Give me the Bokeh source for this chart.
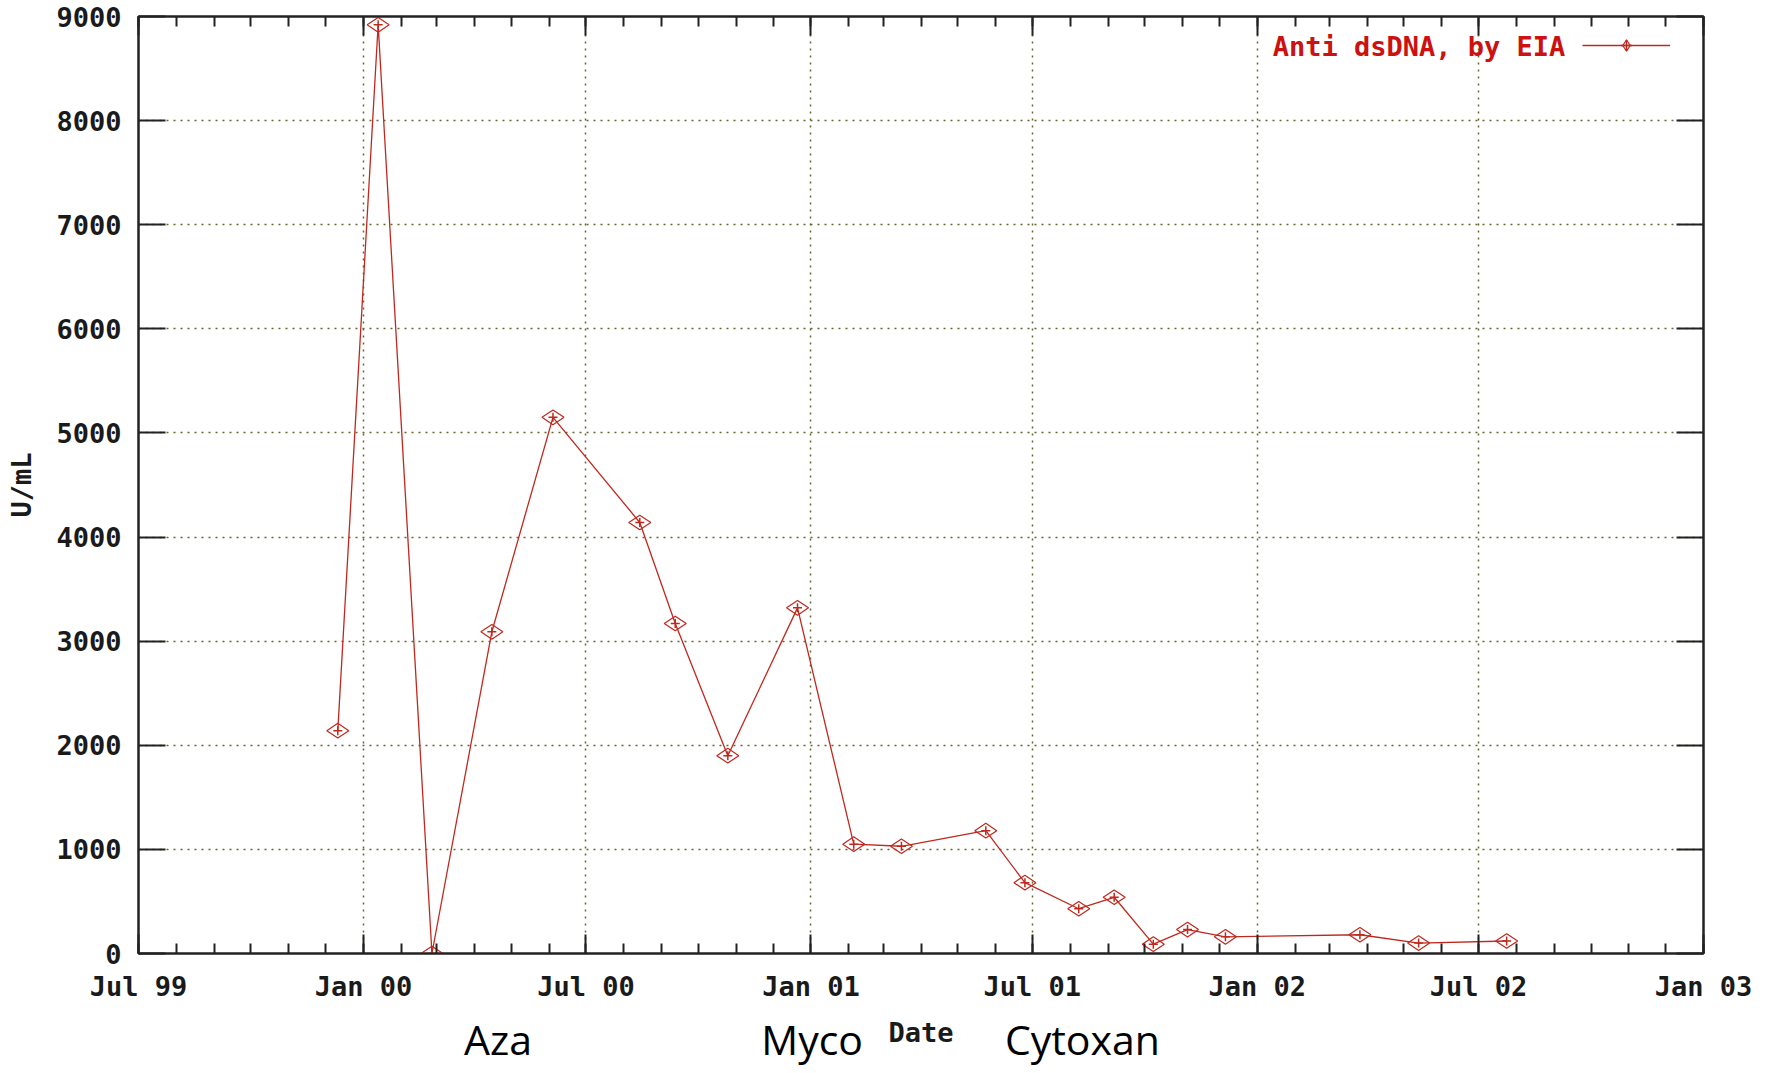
import numpy as np
import pandas as pd
from bokeh.plotting import figure
from bokeh.models import (FixedTicker, DatetimeTickFormatter, DatetimeAxis, LinearAxis,
                          Range1d, Label, Legend, LegendItem)
from bokeh.embed import file_html
from bokeh.resources import INLINE

# ---------------- data ----------------
dates = ["1999-12-11", "2000-01-13", "2000-02-26", "2000-04-15", "2000-06-04",
         "2000-08-14", "2000-09-12", "2000-10-25", "2000-12-21", "2001-02-05",
         "2001-03-16", "2001-05-24", "2001-06-25", "2001-08-08", "2001-09-06",
         "2001-10-08", "2001-11-05", "2001-12-06", "2002-03-26", "2002-05-13",
         "2002-07-24"]
values = [2140, 8920, 0, 3090, 5150, 4140, 3170, 1900, 3320, 1050,
          1030, 1180, 680, 430, 540, 90, 230, 160, 180, 100, 120]
series_name = "Anti dsDNA, by EIA"

x_tick_dates = ["1999-07-01", "2000-01-01", "2000-07-01", "2001-01-01",
                "2001-07-01", "2002-01-01", "2002-07-01", "2003-01-01"]
y_ticks = [0, 1000, 2000, 3000, 4000, 5000, 6000, 7000, 8000, 9000]

drug_names = ["Aza", "Myco", "Cytoxan"]
drug_dates = ["2000-04-20", "2001-01-02", "2001-08-11"]

x_label = "Date"
y_label = "U/mL"

# ---------------- helpers ----------------
def ms(d):
    return int(pd.Timestamp(d).value // 10**6)

xs = [pd.Timestamp(d) for d in dates]
major_ms = [ms(d) for d in x_tick_dates]
minor_ms = [ms(d) for d in pd.date_range(x_tick_dates[0], x_tick_dates[-1], freq="MS")]
drug_ms = [ms(d) for d in drug_dates]

MONO = "DejaVu Sans Mono"
FS = "27px"
RED = "#c0281e"
GRID = "#66662f"
AX = "#222222"

p = figure(width=1772, height=1073, x_axis_type="datetime",
           x_range=Range1d(ms(x_tick_dates[0]), ms(x_tick_dates[-1])),
           y_range=Range1d(y_ticks[0], y_ticks[-1]),
           output_backend="svg", toolbar_location=None,
           min_border_left=138, min_border_right=69, min_border_top=16, min_border_bottom=120)
p.frame_width = 1565
p.frame_height = 937
p.background_fill_color = "white"
p.border_fill_color = "white"
p.outline_line_color = AX
p.outline_line_width = 2

xt = FixedTicker(ticks=major_ms, minor_ticks=minor_ms)
yt = FixedTicker(ticks=y_ticks, minor_ticks=[])
fmt = DatetimeTickFormatter(days="%b %y", months="%b %y", years="%b %y",
                            hours="%b %y", minutes="%b %y", seconds="%b %y")

for ax in p.xaxis:
    ax.ticker = xt
    ax.formatter = fmt
    ax.axis_label = x_label
for ax in p.yaxis:
    ax.ticker = yt
    ax.axis_label = y_label

def style(ax, xdir):
    ax.axis_line_color = AX
    ax.axis_line_width = 2
    ax.major_tick_line_color = AX
    ax.major_tick_line_width = 2
    ax.minor_tick_line_color = AX
    ax.minor_tick_line_width = 2
    ax.major_tick_out = 0
    ax.minor_tick_out = 0
    ax.major_tick_in = 19 if xdir else 27
    ax.minor_tick_in = 10
    ax.major_label_text_font = MONO
    ax.major_label_text_font_style = "bold"
    ax.major_label_text_font_size = FS
    ax.major_label_text_color = "#1a1a1a"
    ax.axis_label_text_font = MONO
    ax.axis_label_text_font_style = "bold"
    ax.axis_label_text_font_size = FS
    ax.axis_label_text_color = "#1a1a1a"

for ax in p.xaxis:
    style(ax, True)
    ax.major_label_standoff = 17
    ax.axis_label_standoff = 12
for ax in p.yaxis:
    style(ax, False)
    ax.major_label_standoff = 17
    ax.axis_label_standoff = 16

top = DatetimeAxis(ticker=xt, formatter=fmt)
style(top, True)
top.major_label_text_font_size = "0px"
top.major_label_text_color = None
top.major_label_standoff = 0
p.add_layout(top, "above")
right = LinearAxis(ticker=yt)
style(right, False)
right.major_label_text_font_size = "0px"
right.major_label_text_color = None
right.major_label_standoff = 0
p.add_layout(right, "right")

# axis carrying the therapy names under the date axis
drug_axis = LinearAxis(ticker=FixedTicker(ticks=drug_ms, minor_ticks=[]),
                       major_label_overrides={t: n for t, n in zip(drug_ms, drug_names)})
drug_axis.axis_line_color = None
drug_axis.major_tick_line_color = None
drug_axis.minor_tick_line_color = None
drug_axis.major_label_text_font = "Open Sans"
drug_axis.major_label_text_font_size = "41px"
drug_axis.major_label_text_color = "black"
drug_axis.major_label_standoff = -46
p.add_layout(drug_axis, "below")

p.xgrid.grid_line_color = GRID
p.xgrid.grid_line_dash = "2 5"
p.xgrid.grid_line_width = 1.5
p.ygrid.grid_line_color = GRID
p.ygrid.grid_line_dash = "2 5"
p.ygrid.grid_line_width = 1.5

ln = p.line(xs, values, line_color=RED, line_width=1.3)
dm = p.scatter(xs, values, marker="diamond", angle=np.pi / 2, size=22,
               fill_color=None, line_color=RED, line_width=1.2)
cr = p.scatter(xs, values, marker="cross", size=9, line_color=RED, line_width=1.5)

leg = Legend(items=[LegendItem(label=" ", renderers=[ln, dm, cr])],
             location=(1444, 894), glyph_width=88, glyph_height=28,
             label_standoff=0, padding=0, margin=0, spacing=0,
             border_line_color=None, background_fill_alpha=0,
             label_text_font_size="20px", label_text_color=None)
p.add_layout(leg, "center")

p.add_layout(Label(x=ms("2002-09-10"), y=8715, text=series_name, text_align="right",
                   text_baseline="middle", text_font=MONO, text_font_style="bold",
                   text_font_size=FS, text_color="#cc1111"))

open("out.html", "w").write(file_html(p, INLINE))
